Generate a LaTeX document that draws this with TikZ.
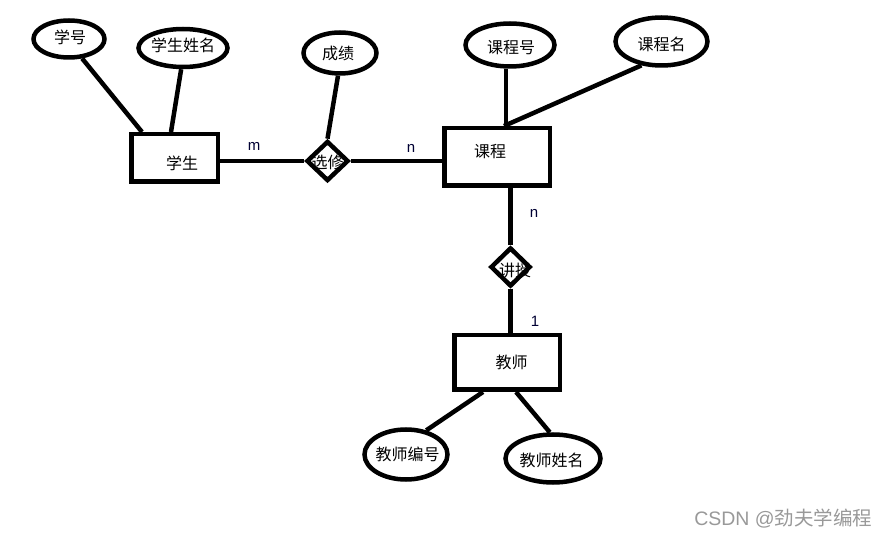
\documentclass[tikz,border=0pt]{standalone}
\usepackage{fontspec}
\setmainfont{Noto Sans CJK SC}
\newfontfamily\latinfont{Liberation Sans}
\usetikzlibrary{shapes.geometric,backgrounds}
\begin{document}
\begin{tikzpicture}[x=1pt,y=-1pt,line width=4.5pt,
  ent/.style={draw,rectangle,inner sep=0pt},
  attr/.style={draw,ellipse,inner sep=0pt},
  rel/.style={draw,diamond,inner sep=0pt},
  every label/.style={font=\fontsize{16pt}{16pt}\selectfont,inner sep=0pt},
  card/.style={font=\latinfont\fontsize{15pt}{15pt}\selectfont,text=black!80!blue,inner sep=0pt},
  conn/.style={line width=4.5pt}]
\useasboundingbox (0,0) rectangle (879,537);
% entities
\node[ent,minimum width=86.5pt,minimum height=47.5pt,label={[xshift=7.5pt,yshift=-5pt]center:学生}] (xs) at (174.5,158) {};
\node[ent,minimum width=105.5pt,minimum height=57.5pt,label={[xshift=-7pt,yshift=5pt]center:课程}] (kc) at (497,157) {};
\node[ent,minimum width=105.5pt,minimum height=54.5pt,label={[xshift=4.5pt]center:教师}] (js) at (507,362.5) {};
% relations
\node[rel,minimum width=42pt,minimum height=40pt,label={[yshift=-1pt]center:选修}] (xx) at (327.5,161) {};
\node[rel,minimum width=40pt,minimum height=39pt,label={[xshift=4.5pt,yshift=-3pt]center:讲授}] (jt) at (510.5,267) {};
% attributes
\node[attr,minimum width=71pt,minimum height=37pt,label={[xshift=1pt,yshift=2pt]center:学号}] (xh) at (69,39) {};
\node[attr,minimum width=89pt,minimum height=38pt,label={[yshift=3pt]center:学生姓名}] (xm) at (183,48) {};
\node[attr,minimum width=73pt,minimum height=41pt,label={[xshift=-2pt]center:成绩}] (cj) at (340,53) {};
\node[attr,minimum width=89pt,minimum height=43pt,label={[xshift=1pt,yshift=-3pt]center:课程号}] (kh) at (510,45) {};
\node[attr,minimum width=92pt,minimum height=48pt,label={[yshift=-3pt]center:课程名}] (km) at (661.5,41.5) {};
\node[attr,minimum width=83pt,minimum height=50pt,label={[xshift=1.5pt]center:教师编号}] (jb) at (406,454.5) {};
\node[attr,minimum width=95pt,minimum height=48pt,label={[xshift=-1.5pt,yshift=-1.5pt]center:教师姓名}] (jx) at (553,458.5) {};
% connectors
\coordinate (kctop) at ([xshift=7pt]kc.north);
\begin{scope}[on background layer]
\fill[white] (0,0) rectangle (879,537);
\draw[conn] (xh.-56) -- ([xshift=13pt]xs.north west);
\draw[conn] (xm.-95) -- ([xshift=42pt]xs.north west);
\draw[conn] (cj.-95) -- (xx.north);
\draw[conn] (xs.east |- xx.west) -- (xx.west);
\draw[conn] (xx.east) -- (xx.east -| kc.west);
\draw[conn] (kh.-100) -- (kh.-100 |- kctop);
\draw[conn] (km.-130) -- (kctop);
\draw[conn] (jt.north |- kc.south) -- (jt.north);
\draw[conn] (jt.south) -- (jt.south |- js.north);
\draw[conn] ([xshift=31pt]js.south west) -- (jb.50);
\draw[conn] ([xshift=64pt]js.south west) -- (jx.97);
\end{scope}
% cardinalities
\node[card] (cm) at (254,146) {m};
\node[card] (cn1) at (411,148) {n};
\node[card] (cn2) at (534,213) {n};
\node[card] (c1) at (535,321) {1};
% watermark
\node[font=\fontsize{19.5pt}{19.5pt}\selectfont,text=black!40,inner sep=0pt,anchor=west] (wm) at (692,518.5) {{\latinfont CSDN @}劲夫学编程};
\end{tikzpicture}
\end{document}
